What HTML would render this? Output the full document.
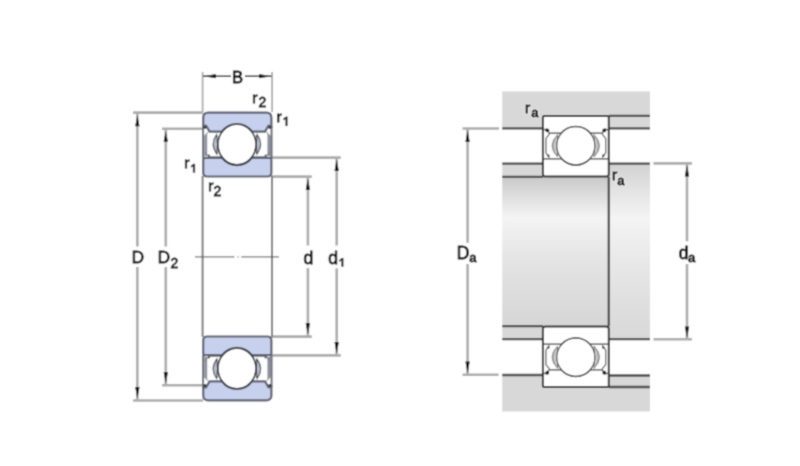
<!DOCTYPE html>
<html><head><meta charset="utf-8"><style>
html,body{margin:0;padding:0;background:#fff;width:800px;height:466px;overflow:hidden}
svg{display:block}
#wrap{}
text{font-family:"Liberation Sans", sans-serif}
</style></head><body>
<div id="wrap"><svg width="800" height="466" viewBox="0 0 800 466">
<filter id="bl" x="0" y="0" width="800" height="466" filterUnits="userSpaceOnUse"><feConvolveMatrix order="3" kernelMatrix="0.0400 0.1200 0.0400 0.1200 0.3600 0.1200 0.0400 0.1200 0.0400" edgeMode="duplicate" preserveAlpha="true"/></filter>
<g filter="url(#bl)">
<rect width="800" height="466" fill="#fff"/>
<path d="M202.6,72 L202.6,112 M272.1,72 L272.1,112" stroke="#acacac" stroke-width="1.8"/>
<path d="M203,76.2 L231,76.2 M245,76.2 L271.5,76.2" stroke="#2a2a2a" stroke-width="1.4"/>
<path d="M203.5,76.2 L216.0,74.10000000000001 L216.0,78.3 Z" fill="#111"/>
<path d="M271.5,76.2 L259.0,74.10000000000001 L259.0,78.3 Z" fill="#111"/>
<path d="M133,112.6 L203,112.6 M133,400.5 L203,400.5 M137.35,113 L137.35,246.6 M137.35,267.1 L137.35,400" stroke="#acacac" stroke-width="2.6"/>
<path d="M137.35,115.3 L139.54999999999998,126.3 L135.15,126.3 Z" fill="#111"/>
<path d="M137.35,398.5 L139.54999999999998,387.0 L135.15,387.0 Z" fill="#111"/>
<path d="M162,128.7 L203,128.7 M162,385.2 L203,385.2 M165.8,129 L165.8,246.6 M165.8,267.1 L165.8,385" stroke="#acacac" stroke-width="2.6"/>
<path d="M165.8,131.2 L168.0,141.7 L163.60000000000002,141.7 Z" fill="#111"/>
<path d="M165.8,383.5 L168.0,372.0 L163.60000000000002,372.0 Z" fill="#111"/>
<path d="M272,157.6 L340.8,157.6 M272,355.4 L340.8,355.4 M336.7,158 L336.7,245.6 M336.7,268.3 L336.7,355" stroke="#acacac" stroke-width="2.6"/>
<path d="M336.7,159.5 L338.9,171.0 L334.5,171.0 Z" fill="#111"/>
<path d="M336.7,353.5 L338.9,342.0 L334.5,342.0 Z" fill="#111"/>
<path d="M272,176.6 L311.8,176.6 M272,336.6 L311.8,336.6 M307.9,177 L307.9,245.6 M307.9,267.9 L307.9,336" stroke="#acacac" stroke-width="2.6"/>
<path d="M307.9,178.5 L310.09999999999997,190.0 L305.7,190.0 Z" fill="#111"/>
<path d="M307.9,334.5 L310.09999999999997,323.0 L305.7,323.0 Z" fill="#111"/>
<path d="M202.6,176 L202.6,337 M272,176 L272,337" stroke="#7d7d7d" stroke-width="2"/>
<path d="M195,256.9 L234.4,256.9 M241.2,256.9 L279,256.9 M237.5,256.9 L238.7,256.9" stroke="#555" stroke-width="1"/>
<g><rect x="202.0" y="126" width="2.4" height="32" fill="#6e727d"/>
<rect x="204.4" y="131" width="2.8" height="25" fill="#8e929c"/>
<rect x="267.4" y="131" width="2.8" height="25" fill="#8e929c"/>
<rect x="270.2" y="126" width="2.4" height="32" fill="#6e727d"/>
<path d="M204.2,128.8 L208.2,131.4 L204.2,135.8 Z M270.4,128.8 L266.4,131.4 L270.4,135.8 Z" fill="#fff"/>
<path d="M208.6,131.4 L204.6,136.2 M266,131.4 L270,136.2" stroke="#8a8e98" stroke-width="0.9" fill="none"/>
<path d="M204.8,152 L208.5,156.5 L222,156.8 M270,152 L266.3,156.5 L252,156.8" stroke="#7a7e88" stroke-width="1.1" fill="none"/>
<circle cx="209" cy="155.6" r="1" fill="#333"/><circle cx="265.6" cy="155.6" r="1" fill="#333"/>
<path d="M216.6,134.6 Q209.6,144.2 216.8,153.8 L217.6,144.2 Z M257.2,134.6 Q264.2,144.2 257.0,153.8 L256.2,144.2 Z" fill="#b8bcc8" stroke="#555965" stroke-width="1.2"/>
<circle cx="216.6" cy="136" r="0.9" fill="#444"/><circle cx="216.6" cy="153" r="0.9" fill="#444"/>
<circle cx="256.6" cy="136" r="0.9" fill="#444"/><circle cx="256.6" cy="153" r="0.9" fill="#444"/>
<path d="M203.2,126.3 L203.2,117.7 Q203.2,112.7 208.2,112.7 L266.4,112.7 Q271.4,112.7 271.4,117.7 L271.4,127.0 L268.6,125.6 L265.0,131.6 L251.97,131.6 A19.35,20.55 0 0 0 221.93,131.6 L209.6,131.6 L206,125.6 Z" fill="#c7d0ed" stroke="#5c6170" stroke-width="2.2" stroke-linejoin="round"/>
<path d="M203.2,159.8 Q203.2,157.8 205.2,157.8 L222.16,157.8 A19.35,20.55 0 0 0 251.74,157.8 L269.4,157.8 Q271.4,157.8 271.4,159.8 L271.4,172.5 Q271.4,176.5 267.4,176.5 L207.2,176.5 Q203.2,176.5 203.2,172.5 Z" fill="#c7d0ed" stroke="#5c6170" stroke-width="2.2" stroke-linejoin="round"/>
<circle cx="204.9" cy="127.6" r="1.4" fill="#333"/><circle cx="269.7" cy="127.6" r="1.4" fill="#333"/>
<ellipse cx="236.95" cy="144.55" rx="19.05" ry="20.25" fill="#ffffff" stroke="#2a2d35" stroke-width="1.6"/></g>
<g transform="translate(0,513.0) scale(1,-1)"><rect x="202.0" y="126" width="2.4" height="32" fill="#6e727d"/>
<rect x="204.4" y="131" width="2.8" height="25" fill="#8e929c"/>
<rect x="267.4" y="131" width="2.8" height="25" fill="#8e929c"/>
<rect x="270.2" y="126" width="2.4" height="32" fill="#6e727d"/>
<path d="M204.2,128.8 L208.2,131.4 L204.2,135.8 Z M270.4,128.8 L266.4,131.4 L270.4,135.8 Z" fill="#fff"/>
<path d="M208.6,131.4 L204.6,136.2 M266,131.4 L270,136.2" stroke="#8a8e98" stroke-width="0.9" fill="none"/>
<path d="M204.8,152 L208.5,156.5 L222,156.8 M270,152 L266.3,156.5 L252,156.8" stroke="#7a7e88" stroke-width="1.1" fill="none"/>
<circle cx="209" cy="155.6" r="1" fill="#333"/><circle cx="265.6" cy="155.6" r="1" fill="#333"/>
<path d="M216.6,134.6 Q209.6,144.2 216.8,153.8 L217.6,144.2 Z M257.2,134.6 Q264.2,144.2 257.0,153.8 L256.2,144.2 Z" fill="#b8bcc8" stroke="#555965" stroke-width="1.2"/>
<circle cx="216.6" cy="136" r="0.9" fill="#444"/><circle cx="216.6" cy="153" r="0.9" fill="#444"/>
<circle cx="256.6" cy="136" r="0.9" fill="#444"/><circle cx="256.6" cy="153" r="0.9" fill="#444"/>
<path d="M203.2,126.3 L203.2,117.7 Q203.2,112.7 208.2,112.7 L266.4,112.7 Q271.4,112.7 271.4,117.7 L271.4,127.0 L268.6,125.6 L265.0,131.6 L251.97,131.6 A19.35,20.55 0 0 0 221.93,131.6 L209.6,131.6 L206,125.6 Z" fill="#c7d0ed" stroke="#5c6170" stroke-width="2.2" stroke-linejoin="round"/>
<path d="M203.2,159.8 Q203.2,157.8 205.2,157.8 L222.16,157.8 A19.35,20.55 0 0 0 251.74,157.8 L269.4,157.8 Q271.4,157.8 271.4,159.8 L271.4,172.5 Q271.4,176.5 267.4,176.5 L207.2,176.5 Q203.2,176.5 203.2,172.5 Z" fill="#c7d0ed" stroke="#5c6170" stroke-width="2.2" stroke-linejoin="round"/>
<circle cx="204.9" cy="127.6" r="1.4" fill="#333"/><circle cx="269.7" cy="127.6" r="1.4" fill="#333"/>
<ellipse cx="236.95" cy="144.55" rx="19.05" ry="20.25" fill="#ffffff" stroke="#2a2d35" stroke-width="1.6"/></g>
<text x="232.05" y="83.10" font-size="16.5" fill="#0a0a0a" stroke="#0a0a0a" stroke-width="0.85">B</text>
<text x="252.37" y="103.10" font-size="15.5" fill="#0a0a0a" stroke="#0a0a0a" stroke-width="0.85">r</text>
<text x="258.40" y="107.30" font-size="14" fill="#0a0a0a" stroke="#0a0a0a" stroke-width="0.85">2</text>
<text x="276.57" y="121.50" font-size="15.5" fill="#0a0a0a" stroke="#0a0a0a" stroke-width="0.85">r</text>
<path d="M285.70,125.80 L285.70,118.70 L283.60,120.10 L283.60,118.50 L286.20,116.70 L287.30,116.70 L287.30,125.80 Z" fill="#0a0a0a" stroke="#0a0a0a" stroke-width="0.35" stroke-linejoin="round"/>
<text x="184.27" y="168.20" font-size="15.5" fill="#0a0a0a" stroke="#0a0a0a" stroke-width="0.85">r</text>
<path d="M193.20,172.60 L193.20,165.90 L191.10,167.30 L191.10,165.70 L193.70,163.90 L194.80,163.90 L194.80,172.60 Z" fill="#0a0a0a" stroke="#0a0a0a" stroke-width="0.35" stroke-linejoin="round"/>
<text x="208.17" y="191.20" font-size="15.5" fill="#0a0a0a" stroke="#0a0a0a" stroke-width="0.85">r</text>
<text x="213.60" y="195.80" font-size="14" fill="#0a0a0a" stroke="#0a0a0a" stroke-width="0.85">2</text>
<text x="131.81" y="263.10" font-size="17" fill="#0a0a0a" stroke="#0a0a0a" stroke-width="0.85">D</text>
<text x="157.81" y="263.10" font-size="17" fill="#0a0a0a" stroke="#0a0a0a" stroke-width="0.85">D</text>
<text x="170.60" y="267.60" font-size="14" fill="#0a0a0a" stroke="#0a0a0a" stroke-width="0.85">2</text>
<text x="303.57" y="263.70" font-size="17.5" fill="#0a0a0a" stroke="#0a0a0a" stroke-width="0.85">d</text>
<text x="328.17" y="263.70" font-size="17.5" fill="#0a0a0a" stroke="#0a0a0a" stroke-width="0.85">d</text>
<path d="M341.60,266.50 L341.60,260.10 L339.50,261.50 L339.50,259.90 L342.10,258.10 L343.20,258.10 L343.20,266.50 Z" fill="#0a0a0a" stroke="#0a0a0a" stroke-width="0.35" stroke-linejoin="round"/>
<defs>
<linearGradient id="sh" x1="0" y1="0" x2="0" y2="1">
<stop offset="0" stop-color="#c9c9c9"/><stop offset="0.27" stop-color="#f4f4f4"/><stop offset="0.55" stop-color="#e4e4e4"/><stop offset="1" stop-color="#d6d6d6"/>
</linearGradient>
<linearGradient id="sh2" x1="0" y1="0" x2="0" y2="1">
<stop offset="0" stop-color="#d2d2d2"/><stop offset="0.31" stop-color="#f4f4f4"/><stop offset="0.6" stop-color="#e6e6e6"/><stop offset="1" stop-color="#d8d8d8"/>
</linearGradient>
</defs>
<rect x="502.2" y="91.4" width="147.8" height="37.1" fill="#d8d8d8"/>
<rect x="502.2" y="375" width="147.8" height="36.5" fill="#d8d8d8"/>
<rect x="502.2" y="163.6" width="41" height="13.3" fill="#d8d8d8"/>
<rect x="502.2" y="326.2" width="41" height="12.9" fill="#d8d8d8"/>
<rect x="502.2" y="176.9" width="107" height="149.3" fill="url(#sh)"/>
<rect x="609" y="163.6" width="41" height="175.5" fill="url(#sh2)"/>
<path d="M502.2,128.4 L543,128.4 M609,115.8 L650,115.8 M609,128.3 L650,128.3 M502.2,163.6 L543,163.6 M502.2,176.9 L543,176.9 M609,163.6 L650,163.6 M608.8,176.9 L608.8,326.2 M502.2,326.2 L543,326.2 M502.2,339.1 L543,339.1 M609,339.1 L650,339.1 M502.2,375 L543,375 M609,375.5 L650,375.5 M609,387 L650,387" stroke="#4a4a4a" stroke-width="2.3"/>
<path d="M462.5,128.5 L499,128.5 M462.5,374.8 L498.6,374.8 M467.6,129 L467.6,242.7 M467.6,264.1 L467.6,374.5" stroke="#acacac" stroke-width="2.6"/>
<path d="M467.6,130.5 L469.8,142.0 L465.40000000000003,142.0 Z" fill="#111"/>
<path d="M467.6,373 L469.8,361.5 L465.40000000000003,361.5 Z" fill="#111"/>
<path d="M653.5,163.4 L692,163.4 M653.5,339.3 L692,339.3 M687,164 L687,241.3 M687,264.1 L687,339" stroke="#acacac" stroke-width="2.6"/>
<path d="M687,165 L689.2,176.5 L684.8,176.5 Z" fill="#111"/>
<path d="M687,338 L689.2,326.5 L684.8,326.5 Z" fill="#111"/>
<g><path d="M542.9,117.5 Q542.9,116.0 544.4,116.0 L607.3,116.0 Q608.8,116.0 608.8,117.5 L608.8,174.1 Q608.8,176.6 606.3,176.6 L545.4,176.6 Q542.9,176.6 542.9,174.1 Z" fill="#fff"/>
<path d="M549.6,133.8 L545.9,138.5 L545.9,152.8 L549.4,157.6 M602.0,133.8 L605.7,138.5 L605.7,152.8 L602.2,157.6" stroke="#5a5a5a" stroke-width="1.2" fill="none"/>
<path d="M557.6,134.6 Q546.6,145.75 557.6,157.0 Z M594.0,134.6 Q605.0,145.75 594.0,157.0 Z" fill="#d2d2d2" stroke="#777" stroke-width="1.0"/>
<path d="M556.5,136.5 Q550.5,145.75 556.5,155.0 M595.1,136.5 Q601.1,145.75 595.1,155.0" fill="none" stroke="#9a9a9a" stroke-width="0.9"/>
<path d="M542.9,117.5 Q542.9,116.0 544.4,116.0 L607.3,116.0 Q608.8,116.0 608.8,117.5 L608.8,174.1 Q608.8,176.6 606.3,176.6 L545.4,176.6 Q542.9,176.6 542.9,174.1 Z" fill="none" stroke="#2c2c2c" stroke-width="2.0"/>
<path d="M542.9,129.8 L546.5,129.2 L549.2,133.1 L561.09,133.1 A19.400000000000002,19.400000000000002 0 0 1 590.51,133.1 L602.4,133.1 L605.1,129.2 L608.8,129.8" fill="none" stroke="#404040" stroke-width="1.25"/>
<path d="M542.9,158.8 L561.45,158.8 A19.400000000000002,19.400000000000002 0 0 0 590.15,158.8 L608.8,158.8" fill="none" stroke="#404040" stroke-width="1.25"/>
<circle cx="547.3" cy="130.3" r="1.9" fill="#111"/><circle cx="604.3" cy="130.3" r="1.9" fill="#111"/>
<circle cx="548.3" cy="155.6" r="1.2" fill="#333"/><circle cx="603.3" cy="155.6" r="1.2" fill="#333"/>
<ellipse cx="575.8" cy="145.75" rx="19.1" ry="19.1" fill="#ffffff" stroke="#3a3a3a" stroke-width="1.15"/></g>
<g transform="translate(0,503.0) scale(1,-1)"><path d="M542.9,117.5 Q542.9,116.0 544.4,116.0 L607.3,116.0 Q608.8,116.0 608.8,117.5 L608.8,174.1 Q608.8,176.6 606.3,176.6 L545.4,176.6 Q542.9,176.6 542.9,174.1 Z" fill="#fff"/>
<path d="M549.6,133.8 L545.9,138.5 L545.9,152.8 L549.4,157.6 M602.0,133.8 L605.7,138.5 L605.7,152.8 L602.2,157.6" stroke="#5a5a5a" stroke-width="1.2" fill="none"/>
<path d="M557.6,134.6 Q546.6,145.75 557.6,157.0 Z M594.0,134.6 Q605.0,145.75 594.0,157.0 Z" fill="#d2d2d2" stroke="#777" stroke-width="1.0"/>
<path d="M556.5,136.5 Q550.5,145.75 556.5,155.0 M595.1,136.5 Q601.1,145.75 595.1,155.0" fill="none" stroke="#9a9a9a" stroke-width="0.9"/>
<path d="M542.9,117.5 Q542.9,116.0 544.4,116.0 L607.3,116.0 Q608.8,116.0 608.8,117.5 L608.8,174.1 Q608.8,176.6 606.3,176.6 L545.4,176.6 Q542.9,176.6 542.9,174.1 Z" fill="none" stroke="#2c2c2c" stroke-width="2.0"/>
<path d="M542.9,129.8 L546.5,129.2 L549.2,133.1 L561.09,133.1 A19.400000000000002,19.400000000000002 0 0 1 590.51,133.1 L602.4,133.1 L605.1,129.2 L608.8,129.8" fill="none" stroke="#404040" stroke-width="1.25"/>
<path d="M542.9,158.8 L561.45,158.8 A19.400000000000002,19.400000000000002 0 0 0 590.15,158.8 L608.8,158.8" fill="none" stroke="#404040" stroke-width="1.25"/>
<circle cx="547.3" cy="130.3" r="1.9" fill="#111"/><circle cx="604.3" cy="130.3" r="1.9" fill="#111"/>
<circle cx="548.3" cy="155.6" r="1.2" fill="#333"/><circle cx="603.3" cy="155.6" r="1.2" fill="#333"/>
<ellipse cx="575.8" cy="145.75" rx="19.1" ry="19.1" fill="#ffffff" stroke="#3a3a3a" stroke-width="1.15"/></g>
<text x="524.97" y="112.70" font-size="15.5" fill="#fff" stroke="#fff" stroke-width="3" stroke-linejoin="round" opacity="0.55">r</text><text x="524.97" y="112.70" font-size="15.5" fill="#0a0a0a" stroke="#0a0a0a" stroke-width="0.85">r</text>
<text x="531.25" y="116.70" font-size="13" fill="#fff" stroke="#fff" stroke-width="3" stroke-linejoin="round" opacity="0.55">a</text><text x="531.25" y="116.70" font-size="13" fill="#0a0a0a" stroke="#0a0a0a" stroke-width="0.85">a</text>
<text x="611.97" y="180.40" font-size="15.5" fill="#fff" stroke="#fff" stroke-width="3" stroke-linejoin="round" opacity="0.55">r</text><text x="611.97" y="180.40" font-size="15.5" fill="#0a0a0a" stroke="#0a0a0a" stroke-width="0.85">r</text>
<text x="617.35" y="184.80" font-size="13" fill="#fff" stroke="#fff" stroke-width="3" stroke-linejoin="round" opacity="0.55">a</text><text x="617.35" y="184.80" font-size="13" fill="#0a0a0a" stroke="#0a0a0a" stroke-width="0.85">a</text>
<text x="456.66" y="258.60" font-size="17.5" fill="#fff" stroke="#fff" stroke-width="3" stroke-linejoin="round" opacity="0.55">D</text><text x="456.66" y="258.60" font-size="17.5" fill="#0a0a0a" stroke="#0a0a0a" stroke-width="0.85">D</text>
<text x="469.35" y="261.50" font-size="13" fill="#fff" stroke="#fff" stroke-width="3" stroke-linejoin="round" opacity="0.55">a</text><text x="469.35" y="261.50" font-size="13" fill="#0a0a0a" stroke="#0a0a0a" stroke-width="0.85">a</text>
<text x="678.87" y="258.60" font-size="17.5" fill="#fff" stroke="#fff" stroke-width="3" stroke-linejoin="round" opacity="0.55">d</text><text x="678.87" y="258.60" font-size="17.5" fill="#0a0a0a" stroke="#0a0a0a" stroke-width="0.85">d</text>
<text x="688.05" y="261.60" font-size="13" fill="#fff" stroke="#fff" stroke-width="3" stroke-linejoin="round" opacity="0.55">a</text><text x="688.05" y="261.60" font-size="13" fill="#0a0a0a" stroke="#0a0a0a" stroke-width="0.85">a</text>
</g>
</svg></div>
</body></html>
